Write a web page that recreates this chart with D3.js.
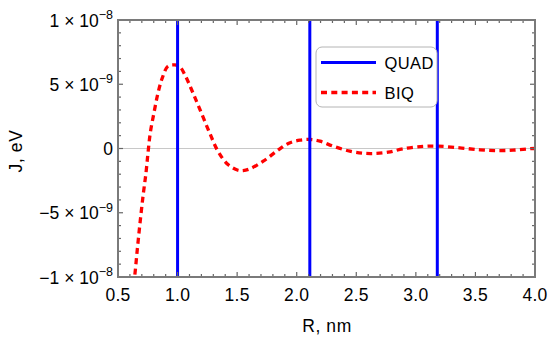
<!DOCTYPE html>
<html><head><meta charset="utf-8">
<script src="https://cdn.jsdelivr.net/npm/d3@7"></script>
<style>
body{margin:0;background:#fff;}
text{font-family:"Liberation Sans",Arial,sans-serif;fill:#000;}
</style></head>
<body><svg id="c" width="556" height="363"></svg>
<script>
// ---- data ----
const biqR = [0.630,0.640,0.662,0.685,0.710,0.735,0.752,0.771,0.802,0.836,0.872,0.919,0.975,1.020,1.060,1.129,1.199,1.269,1.339,1.423,1.507,1.550,1.607,1.719,1.831,1.929,2.027,2.111,2.195,2.306,2.446,2.558,2.650,2.768,2.893,3.061,3.187,3.369,3.537,3.677,3.816,3.956,4.000];
const biqJ = [-10.6e-9,-9.94e-9,-7.86e-9,-5.78e-9,-3.71e-9,-1.89e-9,-0.33e-9,1.22e-9,2.78e-9,4.33e-9,5.50e-9,6.40e-9,6.50e-9,6.35e-9,5.76e-9,4.33e-9,2.78e-9,1.22e-9,-0.21e-9,-1.25e-9,-1.69e-9,-1.72e-9,-1.58e-9,-0.99e-9,-0.21e-9,0.39e-9,0.65e-9,0.70e-9,0.57e-9,0.18e-9,-0.21e-9,-0.37e-9,-0.39e-9,-0.29e-9,-0.02e-9,0.16e-9,0.18e-9,0.05e-9,-0.10e-9,-0.16e-9,-0.13e-9,-0.02e-9,0.0];
const quadR = [1.0, 2.11, 3.18];
const xTicks = [0.5,1.0,1.5,2.0,2.5,3.0,3.5,4.0];
const xTickLabels = ["0.5","1.0","1.5","2.0","2.5","3.0","3.5","4.0"];
const yTicks = [-1e-8,-5e-9,0,5e-9,1e-8];
const yTickMant = ["\u22121","\u22125","0","5","1"];
const yTickExp = ["\u22128","\u22129","","\u22129","\u22128"];
const legendLabels = ["QUAD","BIQ"];
const xTitle = "R, nm";
const yTitle = "J, eV";

// ---- layout ----
const L=118, R=535, T=20, B=277;
const FS = "17.5px";
const svg = d3.select("#c");
const x = d3.scaleLinear().domain([0.5,4]).range([L,R]);
const y = d3.scaleLinear().domain([-1e-8,1e-8]).range([B,T]);

svg.append("defs").append("clipPath").attr("id","clip")
  .append("rect").attr("x",L).attr("y",T).attr("width",R-L).attr("height",B-T);

// zero line
svg.append("line").attr("x1",L).attr("x2",R).attr("y1",y(0)).attr("y2",y(0))
  .attr("stroke","#c8c8c8").attr("stroke-width",1);

// BIQ curve
const pts = biqR.map((r,i)=>[r,biqJ[i]]);
svg.append("path").datum(pts).attr("clip-path","url(#clip)")
  .attr("d", d3.line().x(d=>x(d[0])).y(d=>y(d[1])).curve(d3.curveCatmullRom.alpha(0.5)))
  .attr("fill","none").attr("stroke","#ff0000").attr("stroke-width",3.3)
  .attr("stroke-dasharray","6,4.3");

// QUAD vertical lines
svg.selectAll(".quad").data(quadR).enter().append("line")
  .attr("x1",d=>x(d)).attr("x2",d=>x(d)).attr("y1",T).attr("y2",B)
  .attr("stroke","#0000ff").attr("stroke-width",3);

// ticks (all four sides, inward)
const tickCol="#666666";
const xMinor = d3.range(5,41).map(v=>v/10);
const yMinor = d3.range(-10,11).map(v=>v*1e-9);
const isMajX = v=>Math.abs(v*2-Math.round(v*2))<1e-6;
const isMajY = v=>Math.abs(v/5e-9-Math.round(v/5e-9))<1e-6;
xMinor.forEach(v=>{
  const len = isMajX(v)?5:3;
  svg.append("line").attr("x1",x(v)).attr("x2",x(v)).attr("y1",B).attr("y2",B-len).attr("stroke",tickCol).attr("stroke-width",1.2);
  svg.append("line").attr("x1",x(v)).attr("x2",x(v)).attr("y1",T).attr("y2",T+len).attr("stroke",tickCol).attr("stroke-width",1.2);
});
yMinor.forEach(v=>{
  const len = isMajY(v)?5:3;
  svg.append("line").attr("x1",L).attr("x2",L+len).attr("y1",y(v)).attr("y2",y(v)).attr("stroke",tickCol).attr("stroke-width",1.2);
  svg.append("line").attr("x1",R).attr("x2",R-len).attr("y1",y(v)).attr("y2",y(v)).attr("stroke",tickCol).attr("stroke-width",1.2);
});

// frame
svg.append("rect").attr("x",L).attr("y",T).attr("width",R-L).attr("height",B-T)
  .attr("fill","none").attr("stroke","#7a7a7a").attr("stroke-width",2);

// x tick labels
svg.selectAll(".xl").data(xTicks).enter().append("text")
  .attr("x",d=>x(d)).attr("y",301).attr("text-anchor","middle")
  .style("font-size",FS).style("letter-spacing","0.3px")
  .text((d,i)=>xTickLabels[i]);

// y tick labels
yTicks.forEach((v,i)=>{
  const t = svg.append("text").attr("x",113).attr("y",y(v)+6.5).attr("text-anchor","end")
    .style("font-size",FS);
  if(yTickExp[i]===""){ t.text(yTickMant[i]); }
  else {
    t.append("tspan").text(yTickMant[i]+" \u00d7 10");
    t.append("tspan").attr("dy",-7.5).style("font-size","12.5px").text(yTickExp[i]);
  }
});

// titles
svg.append("text").attr("x",327).attr("y",331.5).attr("text-anchor","middle")
  .style("font-size",FS).style("letter-spacing","0.6px").text(xTitle);
svg.append("text").attr("transform","translate(22,151) rotate(-90)").attr("text-anchor","middle")
  .style("font-size",FS).style("letter-spacing","0.6px").text(yTitle);

// legend
const lg = svg.append("g");
lg.append("rect").attr("x",316).attr("y",47).attr("width",121).attr("height",60).attr("rx",6)
  .attr("fill","#fff").attr("stroke","#b4b4b4").attr("stroke-width",1);
lg.append("line").attr("x1",321).attr("x2",376).attr("y1",62.5).attr("y2",62.5)
  .attr("stroke","#0000ff").attr("stroke-width",3);
lg.append("line").attr("x1",321).attr("x2",376).attr("y1",92.5).attr("y2",92.5)
  .attr("stroke","#ff0000").attr("stroke-width",3.3).attr("stroke-dasharray","6,4.3");
lg.selectAll(".lt").data(legendLabels).enter().append("text")
  .attr("x",384.5).attr("y",(d,i)=>68.5+i*30)
  .style("font-size","16.5px").style("letter-spacing","0.4px").text(d=>d);
</script></body></html>
